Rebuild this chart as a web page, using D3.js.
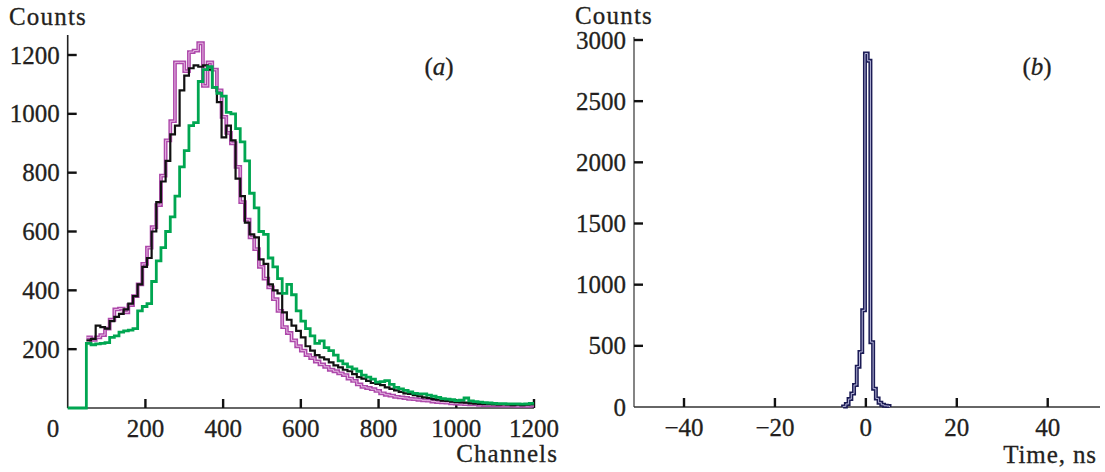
<!DOCTYPE html>
<html>
<head>
<meta charset="utf-8">
<script src="https://cdn.jsdelivr.net/npm/d3@7"></script>
<style>
  body { margin: 0; background: #fff; }
  svg text { font-family: "Liberation Serif", "Times New Roman", Times, serif; fill: #231f20; stroke: #231f20; stroke-width: 0.3; }
</style>
</head>
<body>
<svg id="chart" width="1105" height="472"></svg>
<script>
// panel (a): amplitude spectra, 12-channel bins starting at channel 48
const binStart = 48;
const binWidth = 12;
const blackCounts = [
  230, 235, 280, 275, 270, 295, 310, 320, 335, 355, 380, 420,
  480, 510, 600, 700, 770, 840, 930, 960, 1080, 1130, 1155, 1165,
  1160, 1165, 1150, 1090, 1040, 920, 960, 910, 780, 720, 630, 590,
  580, 505, 490, 420, 400, 390, 325, 300, 280, 262, 240, 210,
  195, 180, 172, 165, 155, 145, 138, 130, 125, 115, 105, 100,
  92, 85, 82, 78, 70, 65, 60, 55, 50, 48, 44, 40,
  36, 34, 30, 28, 25, 24, 22, 20, 19, 18, 16, 15,
  14, 13, 13, 12, 11, 12, 11, 10, 11, 10, 11, 12
];
const magentaCounts = [
  240, 232, 240, 248, 270, 300, 335, 338, 325, 350, 380, 420,
  490, 545, 615, 690, 790, 910, 975, 1175, 1175, 1145, 1210, 1215,
  1240, 1095, 1175, 1150, 1080, 990, 935, 900, 820, 700, 640, 580,
  540, 480, 440, 410, 370, 330, 275, 255, 230, 210, 195, 180,
  170, 158, 148, 140, 130, 125, 118, 112, 100, 92, 80, 72,
  68, 64, 58, 50, 45, 42, 38, 36, 34, 31, 30, 28,
  26, 25, 22, 20, 19, 18, 16, 15, 14, 13, 12, 12,
  11, 10, 10, 9, 9, 8, 8, 8, 7, 8, 7, 8
];
const greenCounts = [
  220, 215, 218, 220, 222, 240, 245, 258, 262, 265, 270, 330,
  345, 355, 430, 500, 545, 600, 650, 720, 820, 875, 960, 970,
  1110, 1150, 1160, 1090, 1070, 1060, 1005, 1000, 950, 905, 840, 730,
  680, 600, 590, 510, 480, 440, 390, 420, 385, 330, 295, 270,
  245, 220, 228, 205, 195, 180, 160, 150, 140, 133, 125, 112,
  105, 98, 88, 90, 93, 80, 70, 65, 60, 55, 50, 48,
  48, 44, 40, 36, 32, 30, 28, 25, 27, 34, 24, 22,
  20, 18, 17, 16, 15, 15, 14, 14, 14, 13, 14, 16
];
const channelTicks = [200, 400, 600, 800, 1000, 1200];
const countTicksA = [200, 400, 600, 800, 1000, 1200];

// panel (b): time spectrum, bin edges in ns and counts
const timeEdges = [-5.0, -4.4, -3.8, -3.2, -2.6, -2.0, -1.4, -0.8, -0.2, 0.4, 1.0, 1.6, 2.2, 2.8, 3.4, 4.0, 4.6, 5.2];
const timeCounts = [5, 25, 65, 110, 180, 330, 450, 790, 2890, 2830, 530, 150, 70, 35, 18, 10, 8];
const timeTicks = [-40, -20, 0, 20, 40];
const countTicksB = [0, 500, 1000, 1500, 2000, 2500, 3000];

const svg = d3.select('#chart');
const FS = 25;

function stepPoints(counts) {
  const pts = counts.map((c, i) => [binStart + i * binWidth, c]);
  pts.push([binStart + counts.length * binWidth, counts[counts.length - 1]]);
  return pts;
}

function drawAxes(g, x, y, xt, yt, opt) {
  const [x0, x1] = x.range();
  const yb = y(0);
  g.append('line').attr('x1', x0).attr('x2', x0).attr('y1', opt.yTop).attr('y2', yb)
    .attr('stroke', opt.yColor).attr('stroke-width', 1.6);
  g.append('line').attr('x1', x0).attr('x2', x1).attr('y1', yb).attr('y2', yb)
    .attr('stroke', '#333').attr('stroke-width', 1.6);

  g.selectAll('.yt').data(yt.filter(d => d > 0)).enter().append('line')
    .attr('x1', x0).attr('x2', x0 + 9).attr('y1', d => y(d)).attr('y2', d => y(d))
    .attr('stroke', '#111').attr('stroke-width', 2.4);
  g.selectAll('.xt').data(xt).enter().append('line')
    .attr('x1', d => x(d)).attr('x2', d => x(d)).attr('y1', yb).attr('y2', yb - 9)
    .attr('stroke', '#111').attr('stroke-width', 2.4);

  g.selectAll('.yl').data(yt).enter().append('text')
    .attr('x', x0 - 8).attr('y', d => y(d)).attr('dy', '0.34em')
    .attr('text-anchor', 'end').attr('font-size', FS)
    .text(d => d);
  g.selectAll('.xl').data(xt).enter().append('text')
    .attr('x', d => x(d)).attr('y', yb + 29)
    .attr('text-anchor', 'middle').attr('font-size', FS)
    .text(d => d < 0 ? '\u2212' + Math.abs(d) : d);
}

// ---- panel (a)
const xa = d3.scaleLinear().domain([0, 1200]).range([67.7, 534]);
const ya = d3.scaleLinear().domain([0, 1200]).range([408, 55]);
const ga = svg.append('g');
drawAxes(ga, xa, ya, channelTicks, countTicksA, { yTop: 35, yColor: '#222' });
ga.append('text').attr('x', 53).attr('y', 437).attr('text-anchor', 'middle')
  .attr('font-size', FS).text('0');

const lineA = d3.line().x(d => xa(d[0])).y(d => ya(d[1])).curve(d3.curveStepAfter);

ga.append('path').attr('d', lineA(stepPoints(magentaCounts)))
  .attr('fill', 'none').attr('stroke', '#ad48aa').attr('stroke-width', 3.8);
ga.append('path').attr('d', lineA(stepPoints(magentaCounts)))
  .attr('fill', 'none').attr('stroke', '#e7b9e4').attr('stroke-width', 1.0);
ga.append('path').attr('d', lineA(stepPoints(blackCounts)))
  .attr('fill', 'none').attr('stroke', '#111').attr('stroke-width', 2.2);
ga.append('path').attr('d', lineA([[0, 0]].concat(stepPoints(greenCounts))))
  .attr('fill', 'none').attr('stroke', '#00a651').attr('stroke-width', 2.8);

ga.append('text').attr('x', 9).attr('y', 25).attr('font-size', FS)
  .attr('letter-spacing', 1.2).text('Counts');
ga.append('text').attr('x', 558).attr('y', 462).attr('text-anchor', 'end')
  .attr('font-size', FS).attr('letter-spacing', 1.1).text('Channels');
const la = ga.append('text').attr('x', 439).attr('y', 75).attr('text-anchor', 'middle').attr('font-size', FS);
la.append('tspan').text('(');
la.append('tspan').attr('font-style', 'italic').text('a');
la.append('tspan').text(')');

// ---- panel (b)
const xb = d3.scaleLinear().domain([-51, 51.5]).range([634, 1100]);
const yb = d3.scaleLinear().domain([0, 3000]).range([407, 40]);
const gb = svg.append('g');
drawAxes(gb, xb, yb, timeTicks, countTicksB, { yTop: 37, yColor: '#666' });

const ptsB = [[timeEdges[0], 0]];
timeCounts.forEach((c, i) => ptsB.push([timeEdges[i], c]));
ptsB.push([timeEdges[timeEdges.length - 1], timeCounts[timeCounts.length - 1]]);
ptsB.push([timeEdges[timeEdges.length - 1], 0]);
const lineB = d3.line().x(d => xb(d[0])).y(d => yb(d[1])).curve(d3.curveStepAfter);
gb.append('path').attr('d', lineB(ptsB))
  .attr('fill', 'none').attr('stroke', '#1b1b55').attr('stroke-width', 4);
gb.append('path').attr('d', lineB(ptsB))
  .attr('fill', 'none').attr('stroke', '#b8b8dc').attr('stroke-width', 1.0);

gb.append('text').attr('x', 575).attr('y', 24).attr('font-size', FS)
  .attr('letter-spacing', 1.2).text('Counts');
gb.append('text').attr('x', 1097).attr('y', 463).attr('text-anchor', 'end')
  .attr('font-size', FS).attr('letter-spacing', 0.9).text('Time, ns');
const lb = gb.append('text').attr('x', 1037).attr('y', 75).attr('text-anchor', 'middle').attr('font-size', FS);
lb.append('tspan').text('(');
lb.append('tspan').attr('font-style', 'italic').text('b');
lb.append('tspan').text(')');
</script>
</body>
</html>
